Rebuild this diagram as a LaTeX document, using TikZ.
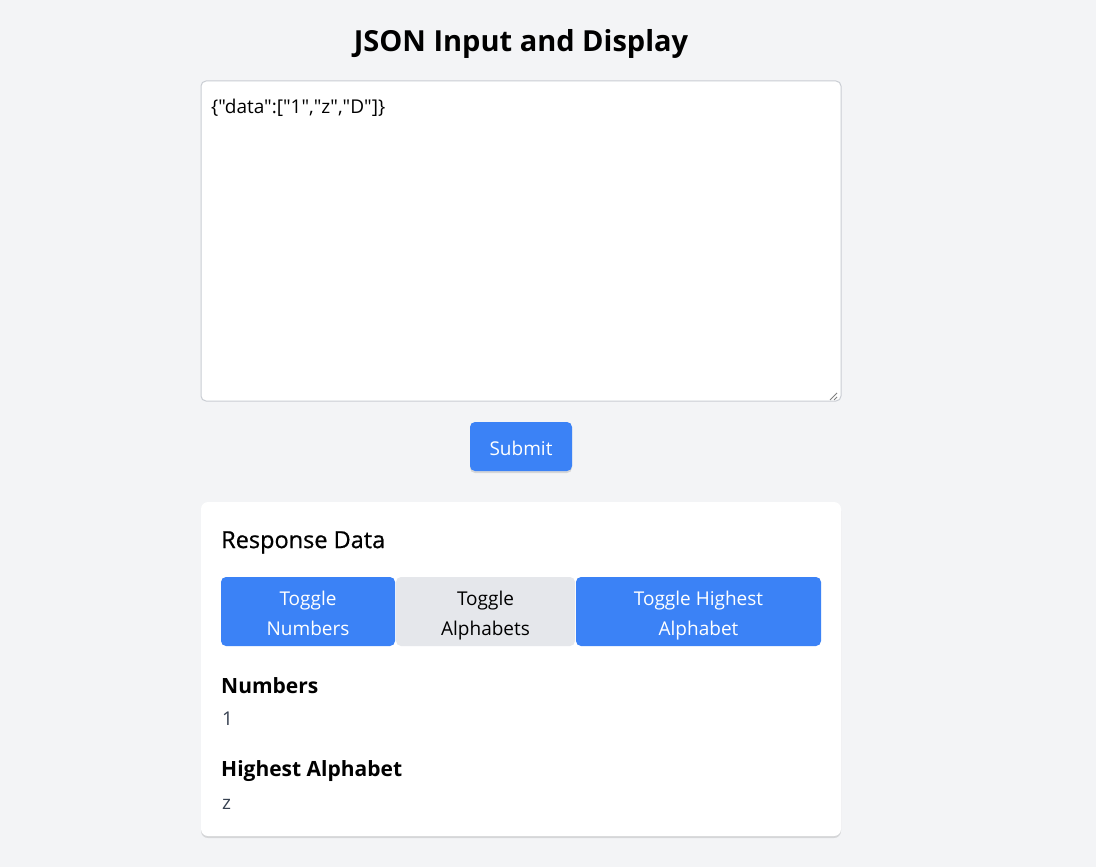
\documentclass[tikz,border=0pt]{standalone}
\usepackage{fontspec}
\setmainfont{Open Sans}
\newfontfamily\jsonfont{Open Sans}
\newfontfamily\medfont{Open Sans}[FakeBold=0.7]
\usetikzlibrary{shadows}
\definecolor{pagebg}{HTML}{F3F4F6}
\definecolor{btnblue}{HTML}{3B82F6}
\definecolor{btngray}{HTML}{E5E7EB}
\definecolor{boxline}{HTML}{C9CDD3}
\definecolor{valgray}{HTML}{374151}
\newcommand{\btnlines}[2]{\raisebox{-3pt}[\height][\depth]{\begin{tabular}{@{}c@{}}#1\\#2\end{tabular}}}
\begin{document}
\begin{tikzpicture}[x=1pt,y=-1pt,
	btn/.style={rounded corners=5pt,inner sep=0pt,font=\fontsize{19}{30}\selectfont},
	bluebtn/.style={btn,fill=btnblue,text=white},
	graybtn/.style={btn,fill=btngray,text=black},
	softshadow/.style={drop shadow={shadow xshift=0pt,shadow yshift=-2pt,fill=black,opacity=.12}},
	heading/.style={anchor=west,inner sep=0pt,font=\fontsize{21}{26}\selectfont\bfseries},
	value/.style={anchor=west,inner sep=0pt,text=valgray,font=\fontsize{19}{24}\selectfont}]
	\fill [pagebg] (0,0) rectangle (1096,867);
	
	\node[inner sep=0pt,font=\fontsize{29}{34}\selectfont\bfseries] (title) at (521,44) {JSON Input and Display};
	
	% text area
	\draw [boxline,line width=1pt,fill=white,rounded corners=5pt] (201,81) rectangle (841,401);
	\node[anchor=west,inner sep=0pt,font=\fontsize{19}{24}\jsonfont] (json) at (211,108) {\{"data":["1","z","D"]\}};
	\draw [gray,line width=.8pt] (837,393) -- (830,400) (837,397) -- (834,400);
	
	\node[bluebtn,softshadow,minimum width=102pt,minimum height=49pt] (submit) at (521,446.5) {\raisebox{-1.5pt}[\height][\depth]{Submit}};
	
	% response card
	\fill [white,rounded corners=7pt,softshadow] (201,502) rectangle (841,836);
	\node[anchor=west,inner sep=0pt,font=\fontsize{23.5}{28}\medfont] (resp) at (221,542.5) {Response Data};
	
	\node[bluebtn,minimum width=174pt,minimum height=69pt] (tnum) at (308,611.5) {\btnlines{Toggle}{Numbers}};
	\node[graybtn,minimum width=179pt,minimum height=69pt] (talpha) at (485.5,611.5) {\btnlines{Toggle}{Alphabets}};
	\node[bluebtn,minimum width=245pt,minimum height=69pt] (thigh) at (698.5,611.5) {\btnlines{Toggle Highest}{Alphabet}};
	
	\node[heading] (numhead) at (221,685.5) {Numbers};
	\node[value] (numval) at (222,718.5) {1};
	\node[heading] (highhead) at (221,771.5) {Highest Alphabet};
	\node[value] (highval) at (222,804) {z};
\end{tikzpicture}
\end{document}
